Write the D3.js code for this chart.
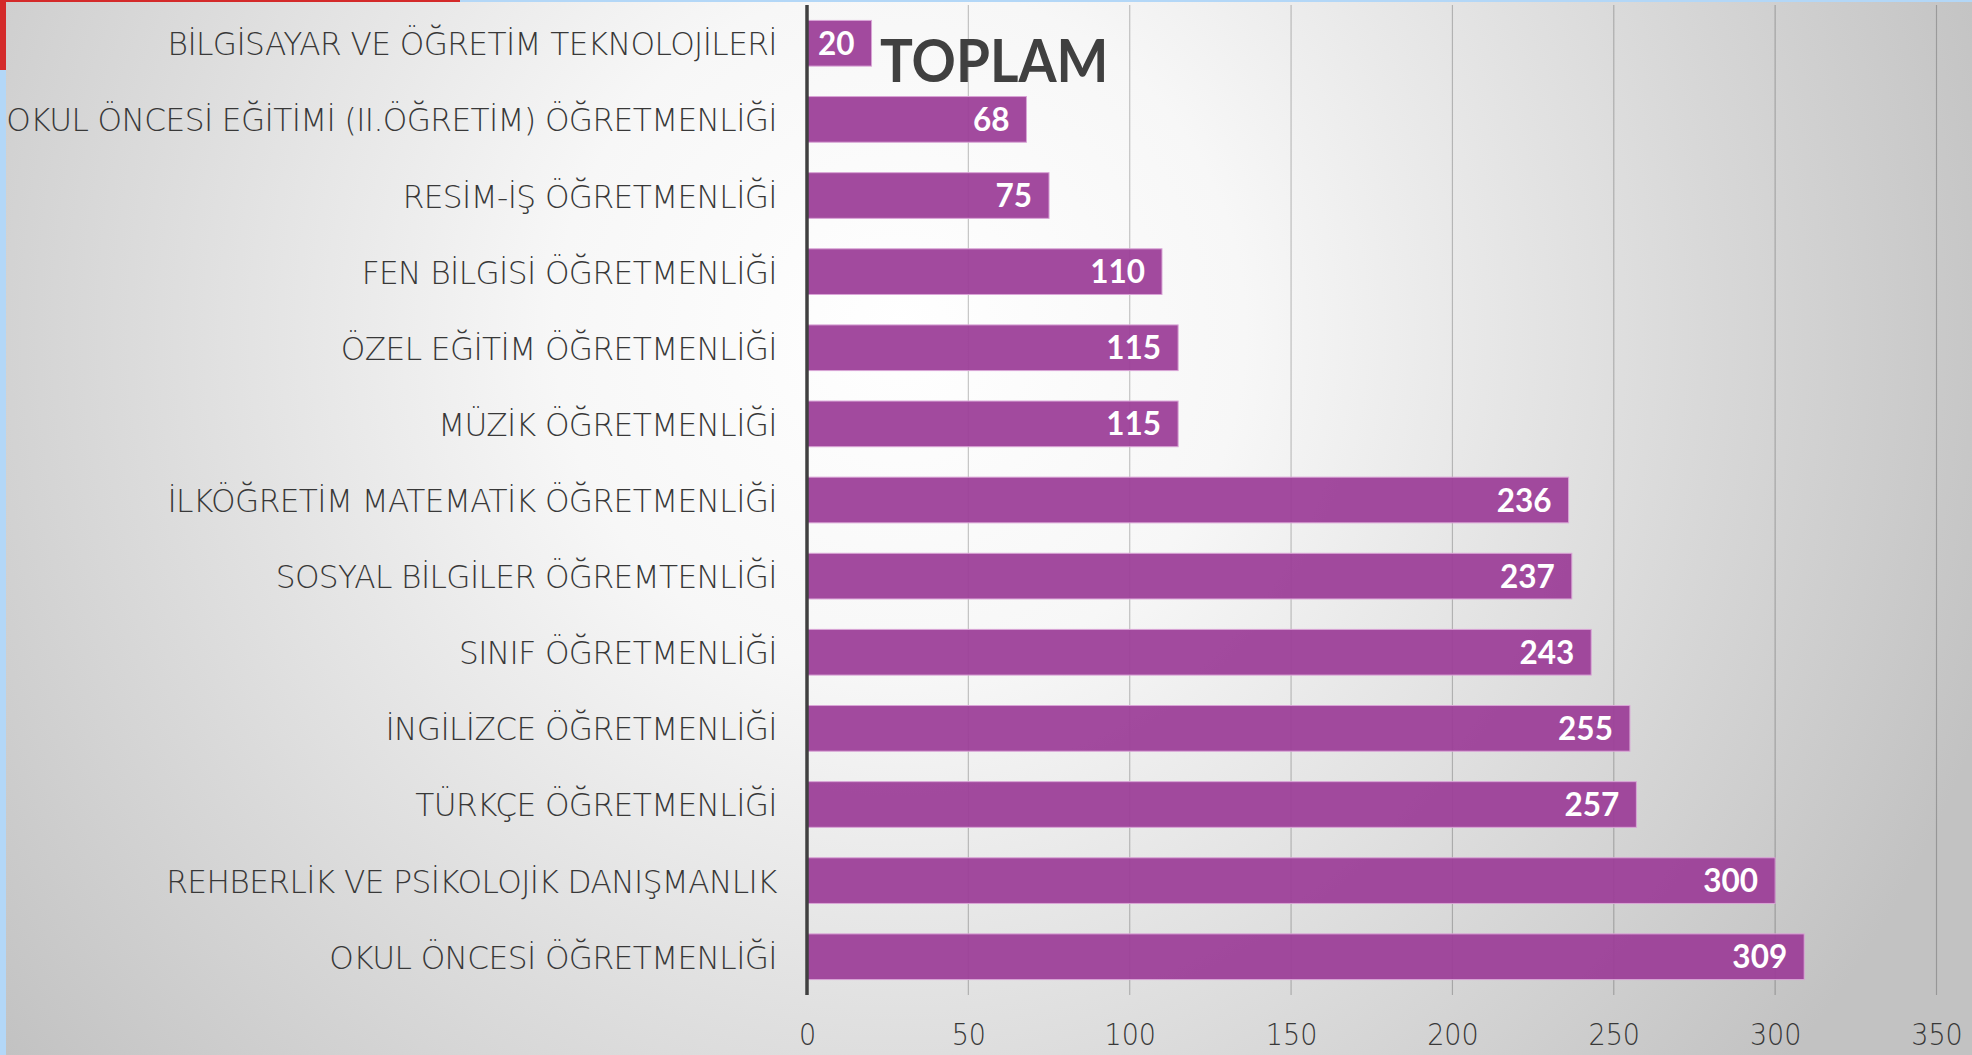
<!DOCTYPE html>
<html>
<head>
<meta charset="utf-8">
<script src="https://cdn.jsdelivr.net/npm/d3@7"></script>
<style>
  html, body { margin: 0; padding: 0; overflow: hidden; background: #d0d0d0; }
  svg { display: block; }
</style>
</head>
<body>
<svg id="chart" width="1972" height="1055"></svg>
<script>
// ---- DATA ----
const categories = [
  "BİLGİSAYAR VE ÖĞRETİM TEKNOLOJİLERİ",
  "OKUL ÖNCESİ EĞİTİMİ (II.ÖĞRETİM) ÖĞRETMENLİĞİ",
  "RESİM-İŞ ÖĞRETMENLİĞİ",
  "FEN BİLGİSİ ÖĞRETMENLİĞİ",
  "ÖZEL EĞİTİM ÖĞRETMENLİĞİ",
  "MÜZİK ÖĞRETMENLİĞİ",
  "İLKÖĞRETİM MATEMATİK ÖĞRETMENLİĞİ",
  "SOSYAL BİLGİLER ÖĞREMTENLİĞİ",
  "SINIF ÖĞRETMENLİĞİ",
  "İNGİLİZCE ÖĞRETMENLİĞİ",
  "TÜRKÇE ÖĞRETMENLİĞİ",
  "REHBERLİK VE PSİKOLOJİK DANIŞMANLIK",
  "OKUL ÖNCESİ ÖĞRETMENLİĞİ"
];
const values = [20, 68, 75, 110, 115, 115, 236, 237, 243, 255, 257, 300, 309];
const xTicks = [0, 50, 100, 150, 200, 250, 300, 350];
const title = "TOPLAM";

// ---- LAYOUT ----
const W = 1972, H = 1055;
const svg = d3.select("#chart");

const defs = svg.append("defs");
const rg = defs.append("radialGradient")
  .attr("id", "bg").attr("gradientUnits", "userSpaceOnUse")
  .attr("cx", 900).attr("cy", 330).attr("r", 1150);
rg.append("stop").attr("offset", 0).attr("stop-color", "#ffffff");
rg.append("stop").attr("offset", 0.3).attr("stop-color", "#f7f7f7");
rg.append("stop").attr("offset", 1).attr("stop-color", "#c2c2c2");

svg.append("rect").attr("width", W).attr("height", H).attr("fill", "url(#bg)");
// window edge decorations
svg.append("rect").attr("x", 0).attr("y", 0).attr("width", W).attr("height", 2).attr("fill", "#b3d7f7");
svg.append("rect").attr("x", 0).attr("y", 0).attr("width", 6).attr("height", H).attr("fill", "#b3d7f7");
svg.append("rect").attr("x", 0).attr("y", 0).attr("width", 460).attr("height", 2).attr("fill", "#d42a2a");
svg.append("rect").attr("x", 0).attr("y", 0).attr("width", 6).attr("height", 70).attr("fill", "#d42a2a");

const x = d3.scaleLinear().domain([0, 350]).range([807, 1936.5]);
const y = d3.scaleBand().domain(categories).range([5.2, 994.8]).paddingInner(0.4).paddingOuter(0.2);

// gridlines
svg.append("g").selectAll("line").data(xTicks.slice(1)).join("line")
  .attr("x1", d => x(d)).attr("x2", d => x(d))
  .attr("y1", 5).attr("y2", 995)
  .attr("stroke", "rgba(0,0,0,0.22)").attr("stroke-width", 1.2);

// bars
svg.append("g").selectAll("rect").data(values).join("rect")
  .attr("x", x(0))
  .attr("y", (d, i) => y(categories[i]))
  .attr("width", d => x(d) - x(0))
  .attr("height", y.bandwidth())
  .attr("fill", "#9c3f98").attr("fill-opacity", 0.94)
  .attr("stroke", "#d9a5d6").attr("stroke-width", 1);

// zero axis line
svg.append("line").attr("x1", x(0)).attr("x2", x(0)).attr("y1", 5).attr("y2", 995)
  .attr("stroke", "#404040").attr("stroke-width", 3.5);

// category labels
const labelScale = 0.96;
svg.append("g").selectAll("text").data(categories).join("text")
  .attr("transform", d => `translate(777,${y(d) + y.bandwidth() / 2 + 12}) scale(${labelScale},1)`)
  .attr("text-anchor", "end")
  .attr("font-family", "'DejaVu Sans'")
  .attr("font-weight", 200)
  .attr("font-size", 32.5)
  .attr("letter-spacing", -0.6)
  .attr("fill", "#383838")
  .text(d => d);

// value labels
svg.append("g").selectAll("text").data(values).join("text")
  .attr("x", d => x(d) - 17)
  .attr("y", (d, i) => y(categories[i]) + y.bandwidth() / 2 + 11.5)
  .attr("text-anchor", "end")
  .attr("font-family", "Lato, 'Open Sans', sans-serif")
  .attr("font-weight", 700)
  .attr("font-size", 31.5)
  .attr("fill", "#ffffff")
  .text(d => d);

// x axis tick labels
const xAxis = d3.axisBottom(x).tickValues(xTicks).tickSize(0).tickPadding(0);
const gx = svg.append("g").attr("transform", "translate(0,1014)").call(xAxis);
gx.select(".domain").remove();
gx.selectAll(".tick text")
  .attr("dy", 0).attr("y", 31)
  .attr("font-family", "'DejaVu Sans'")
  .attr("font-weight", 200)
  .attr("font-size", 30)
  .attr("fill", "#383838")
  .attr("transform", "scale(0.9,1)");

// title
svg.append("text")
  .attr("transform", "translate(880,82) scale(0.93,1)")
  .attr("font-family", "Lato, 'Open Sans', sans-serif")
  .attr("font-weight", 700)
  .attr("font-size", 59)
  .attr("fill", "#404040")
  .text(title);
</script>
</body>
</html>
